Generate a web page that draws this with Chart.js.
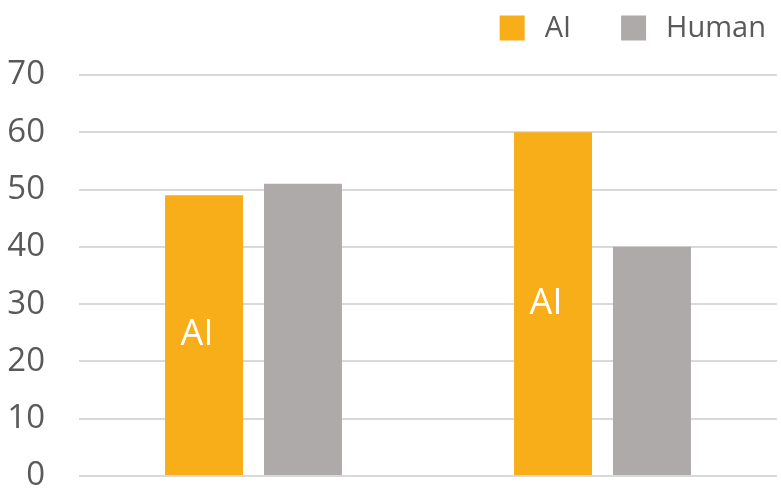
<!DOCTYPE html>
<html><head><meta charset="utf-8">
<script src="https://cdn.jsdelivr.net/npm/chart.js@4"></script>
<style>html,body{margin:0;padding:0;background:#fff}#wrap{width:781px;height:498px}</style>
</head><body><div id="wrap"><canvas id="c"></canvas></div>
<script>
const categories = ["", ""];
const aiValues = [49, 60];
const humanValues = [51, 40];
const yTicks = [0, 10, 20, 30, 40, 50, 60, 70];
const seriesNames = ["AI", "Human"];

const FONT = "'Open Sans', 'Noto Sans', sans-serif";

const barLabels = {
  id: 'barLabels',
  afterDatasetsDraw(chart) {
    const ctx = chart.ctx;
    const meta = chart.getDatasetMeta(0);
    ctx.save();
    ctx.fillStyle = '#ffffff';
    ctx.font = '36px ' + FONT;
    ctx.textAlign = 'center';
    ctx.textBaseline = 'middle';
    meta.data.forEach(el => {
      const p = el.getCenterPoint();
      ctx.fillText(chart.data.datasets[0].label, p.x - 7, p.y);
    });
    ctx.restore();
  }
};

const topLegend = {
  id: 'topLegend',
  afterDraw(chart) {
    const ctx = chart.ctx;
    const ds = chart.data.datasets;
    const box = 25, boxGap = 20, itemGap = 50, right = 766, cy = 28;
    ctx.save();
    ctx.font = '29px ' + FONT;
    ctx.textBaseline = 'middle';
    ctx.textAlign = 'left';
    const widths = ds.map(d => ctx.measureText(d.label).width);
    let total = 0;
    widths.forEach((w, i) => { total += box + boxGap + w + (i < widths.length - 1 ? itemGap : 0); });
    let x = right - total;
    ds.forEach((d, i) => {
      ctx.fillStyle = d.backgroundColor;
      ctx.fillRect(x, cy - box / 2, box, box);
      x += box + boxGap;
      ctx.fillStyle = '#595959';
      ctx.fillText(d.label, x, cy + 1);
      x += widths[i] + itemGap;
    });
    ctx.restore();
  }
};

new Chart(document.getElementById('c'), {
  type: 'bar',
  data: {
    labels: categories,
    datasets: [
      { label: seriesNames[0], data: aiValues, backgroundColor: '#F8AE18', categoryPercentage: 0.567, barPercentage: 0.788 },
      { label: seriesNames[1], data: humanValues, backgroundColor: '#AEAAAA', categoryPercentage: 0.567, barPercentage: 0.788 }
    ]
  },
  options: {
    responsive: true,
    maintainAspectRatio: false,
    animation: false,
    layout: { padding: { left: 0, right: 4, top: 75, bottom: 22 } },
    plugins: {
      tooltip: { enabled: false },
      legend: { display: false }
    },
    scales: {
      x: { display: false },
      y: {
        min: 0, max: 70,
        afterBuildTicks: s => { s.ticks = yTicks.map(v => ({ value: v })); },
        afterFit: s => { s.width = 79; s.paddingTop = 0; s.paddingBottom = 0; },
        grid: { color: '#D9D9D9', lineWidth: 2, drawTicks: false },
        border: { display: false },
        ticks: { color: '#595959', padding: 34, font: { family: FONT, size: 33 } }
      }
    }
  },
  plugins: [barLabels, topLegend]
});
</script></body></html>
